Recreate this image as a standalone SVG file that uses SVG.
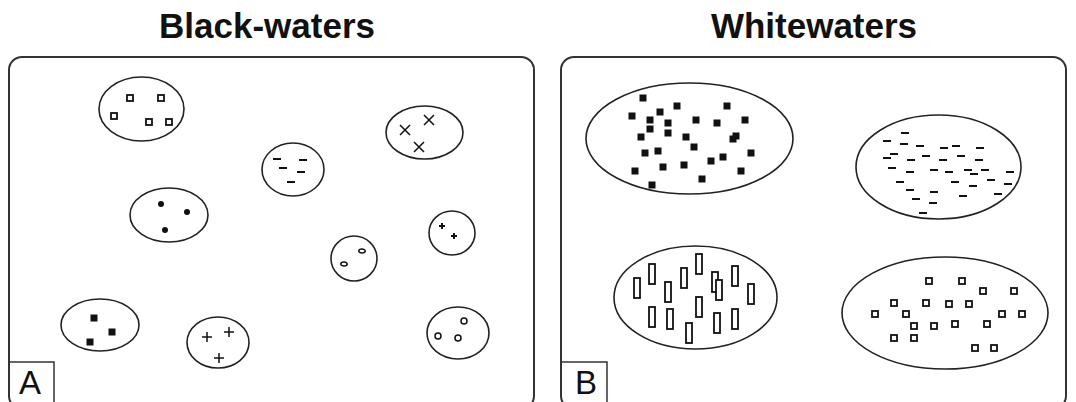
<svg xmlns="http://www.w3.org/2000/svg" width="1076" height="402" viewBox="0 0 1076 402">
<defs>
<style>
.panel{fill:#fff;stroke:#333;stroke-width:2}
.lbl{fill:none;stroke:#333;stroke-width:1.5}
.ell{fill:none;stroke:#222;stroke-width:1.6}
.title{font-family:"Liberation Sans",Arial,sans-serif;font-weight:bold;font-size:35px;fill:#111;text-anchor:middle}
.letter{font-family:"Liberation Sans",Arial,sans-serif;font-size:33px;fill:#111}
.hs{fill:#fff;stroke:#111;stroke-width:1.8}
.fs{fill:#111}
.ln{stroke:#111;stroke-width:2;fill:none}
.thin{stroke:#111;stroke-width:1.5;fill:none}
</style>
<rect id="hsq" x="-3" y="-3" width="6" height="6" class="hs"/>
<rect id="fsq" x="-3.5" y="-3.5" width="7" height="7" class="fs"/>
<circle id="dot" r="3" class="fs"/>
<path id="dash" d="M-4,0H4" class="ln"/>
<path id="xm" d="M-5,-5L5,5M5,-5L-5,5" class="thin"/>
<path id="pl" d="M-5,0H5M0,-5V5" class="thin"/>
<path id="spl" d="M-3,0H3M0,-3V3" class="ln"/>
<ellipse id="sov" rx="3.2" ry="2" class="thin"/>
<circle id="sci" r="3" class="thin"/>
<rect id="bar" x="-3" y="-10" width="6" height="20" class="hs"/>
</defs>
<rect width="1076" height="402" fill="#fff"/>

<g id="titles">
<text class="title" x="267" y="38">Black-waters</text>
<text class="title" x="814" y="38">Whitewaters</text>
</g>

<g id="panelA">
<rect class="panel" x="9" y="57" width="525" height="352" rx="13"/>
<path class="lbl" d="M9,362H54V402"/>
<text class="letter" x="19" y="394">A</text>
</g>

<g id="panelB">
<rect class="panel" x="561" y="57" width="505" height="352" rx="13"/>
<path class="lbl" d="M561,362H607V402"/>
<text class="letter" x="575" y="394">B</text>
</g>

<g id="connectors"></g>

<g id="a1">
<ellipse class="ell" cx="141.5" cy="109" rx="42.5" ry="32"/>
<use href="#hsq" x="130" y="98"/><use href="#hsq" x="161" y="98"/><use href="#hsq" x="114" y="116"/><use href="#hsq" x="149" y="122"/><use href="#hsq" x="169" y="122"/>
</g>
<g id="a2">
<ellipse class="ell" cx="169" cy="215" rx="39" ry="27"/>
<use href="#dot" x="161" y="204"/><use href="#dot" x="187" y="212"/><use href="#dot" x="165" y="230"/>
</g>
<g id="a3">
<ellipse class="ell" cx="293" cy="169.5" rx="31" ry="26.5"/>
<use href="#dash" x="277" y="159"/><use href="#dash" x="303" y="160"/><use href="#dash" x="283" y="168"/><use href="#dash" x="301" y="172"/><use href="#dash" x="291" y="182"/>
</g>
<g id="a4">
<ellipse class="ell" cx="424.5" cy="132.5" rx="38.5" ry="26.5"/>
<use href="#xm" x="405" y="130"/><use href="#xm" x="429" y="120"/><use href="#xm" x="419" y="147"/>
</g>
<g id="a5">
<ellipse class="ell" cx="354" cy="258.5" rx="23" ry="22.5"/>
<use href="#sov" x="362" y="251"/><use href="#sov" x="344" y="264"/>
</g>
<g id="a6">
<ellipse class="ell" cx="452" cy="233" rx="23" ry="22"/>
<use href="#spl" x="442" y="226"/><use href="#spl" x="454" y="236"/>
</g>
<g id="a7">
<ellipse class="ell" cx="100" cy="325" rx="39" ry="26"/>
<use href="#fsq" x="94" y="318"/><use href="#fsq" x="112" y="332"/><use href="#fsq" x="90" y="342"/>
</g>
<g id="a8">
<ellipse class="ell" cx="218" cy="342.5" rx="31" ry="25.5"/>
<use href="#pl" x="207" y="337"/><use href="#pl" x="229" y="332"/><use href="#pl" x="219" y="358"/>
</g>
<g id="a9">
<ellipse class="ell" cx="458" cy="333" rx="31" ry="26"/>
<use href="#sci" x="464" y="321"/><use href="#sci" x="438" y="336"/><use href="#sci" x="458" y="338"/>
</g>

<g id="b1">
<ellipse class="ell" cx="689.5" cy="138.5" rx="103.5" ry="55.5"/>
<use href="#fsq" x="643" y="98"/><use href="#fsq" x="677" y="106"/><use href="#fsq" x="727" y="106"/>
<use href="#fsq" x="632" y="116"/><use href="#fsq" x="660" y="112"/><use href="#fsq" x="650" y="120"/>
<use href="#fsq" x="668" y="123"/><use href="#fsq" x="696" y="120"/><use href="#fsq" x="717" y="123"/>
<use href="#fsq" x="745" y="120"/><use href="#fsq" x="650" y="129"/><use href="#fsq" x="668" y="133"/>
<use href="#fsq" x="641" y="137"/><use href="#fsq" x="686" y="137"/><use href="#fsq" x="733" y="139"/>
<use href="#fsq" x="736" y="136"/><use href="#fsq" x="694" y="147"/><use href="#fsq" x="645" y="153"/>
<use href="#fsq" x="658" y="151"/><use href="#fsq" x="751" y="153"/><use href="#fsq" x="723" y="157"/>
<use href="#fsq" x="711" y="161"/><use href="#fsq" x="684" y="165"/><use href="#fsq" x="663" y="167"/>
<use href="#fsq" x="635" y="171"/><use href="#fsq" x="741" y="171"/><use href="#fsq" x="702" y="179"/>
<use href="#fsq" x="652" y="185"/>
</g>
<g id="b2">
<ellipse class="ell" cx="938.5" cy="167" rx="82.5" ry="52"/>
<use href="#dash" x="905" y="133"/><use href="#dash" x="887" y="141"/><use href="#dash" x="904" y="144"/>
<use href="#dash" x="920" y="146"/><use href="#dash" x="944" y="148"/><use href="#dash" x="956" y="146"/>
<use href="#dash" x="980" y="148"/><use href="#dash" x="894" y="154"/><use href="#dash" x="887" y="158"/>
<use href="#dash" x="911" y="160"/><use href="#dash" x="926" y="156"/><use href="#dash" x="943" y="160"/>
<use href="#dash" x="961" y="156"/><use href="#dash" x="979" y="160"/><use href="#dash" x="892" y="168"/>
<use href="#dash" x="910" y="172"/><use href="#dash" x="934" y="170"/><use href="#dash" x="949" y="172"/>
<use href="#dash" x="968" y="170"/><use href="#dash" x="974" y="174"/><use href="#dash" x="985" y="170"/>
<use href="#dash" x="1010" y="172"/><use href="#dash" x="900" y="182"/><use href="#dash" x="955" y="182"/>
<use href="#dash" x="991" y="180"/><use href="#dash" x="973" y="186"/><use href="#dash" x="1008" y="184"/>
<use href="#dash" x="910" y="190"/><use href="#dash" x="934" y="192"/><use href="#dash" x="963" y="196"/>
<use href="#dash" x="998" y="194"/><use href="#dash" x="916" y="199"/><use href="#dash" x="933" y="203"/>
<use href="#dash" x="923" y="213"/>
</g>
<g id="b3">
<ellipse class="ell" cx="695.5" cy="297.5" rx="81.5" ry="51.5"/>
<use href="#bar" x="637" y="288"/><use href="#bar" x="652" y="274"/><use href="#bar" x="668" y="292"/>
<use href="#bar" x="684" y="278"/><use href="#bar" x="699" y="264"/><use href="#bar" x="715" y="282"/>
<use href="#bar" x="719" y="290"/><use href="#bar" x="735" y="276"/><use href="#bar" x="751" y="294"/>
<use href="#bar" x="652" y="317"/><use href="#bar" x="670" y="319"/><use href="#bar" x="699" y="307"/>
<use href="#bar" x="689" y="333"/><use href="#bar" x="717" y="323"/><use href="#bar" x="735" y="319"/>
</g>
<g id="b4">
<ellipse class="ell" cx="945" cy="313" rx="103" ry="56"/>
<use href="#hsq" x="929" y="281"/><use href="#hsq" x="962" y="281"/><use href="#hsq" x="983" y="291"/>
<use href="#hsq" x="1014" y="291"/><use href="#hsq" x="894" y="303"/><use href="#hsq" x="926" y="303"/>
<use href="#hsq" x="949" y="304"/><use href="#hsq" x="969" y="304"/><use href="#hsq" x="875" y="314"/>
<use href="#hsq" x="906" y="314"/><use href="#hsq" x="1002" y="314"/><use href="#hsq" x="1022" y="314"/>
<use href="#hsq" x="914" y="326"/><use href="#hsq" x="934" y="326"/><use href="#hsq" x="955" y="324"/>
<use href="#hsq" x="987" y="324"/><use href="#hsq" x="894" y="338"/><use href="#hsq" x="914" y="338"/>
<use href="#hsq" x="975" y="348"/><use href="#hsq" x="994" y="348"/>
</g>
</svg>
